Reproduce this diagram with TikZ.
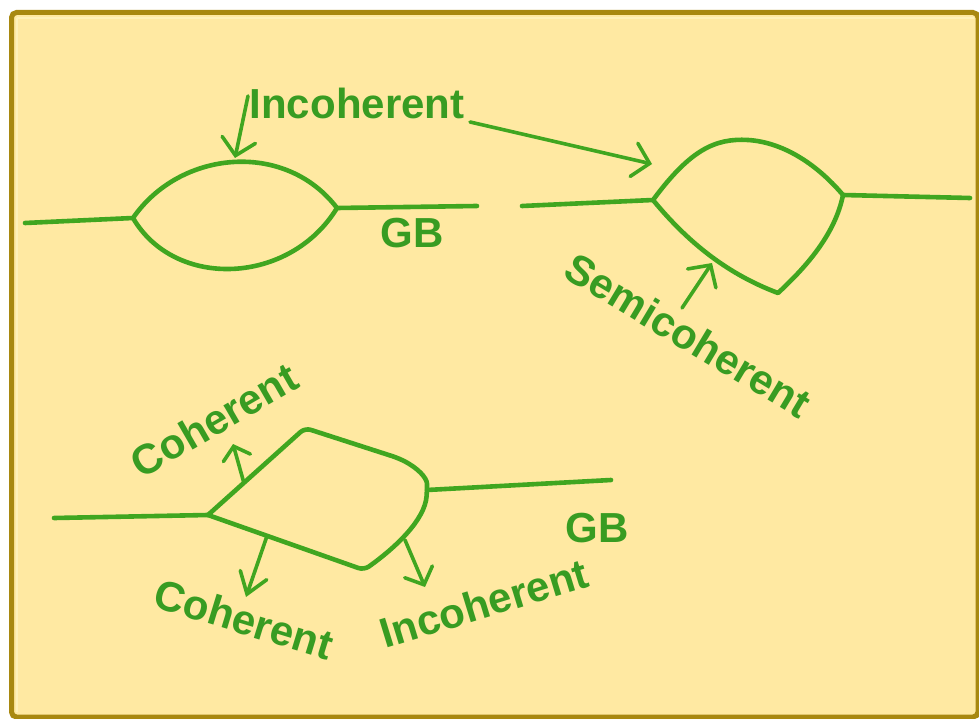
\documentclass[tikz,border=0pt]{standalone}
\usepackage{fontspec}
\setmainfont{Liberation Sans}
\usetikzlibrary{arrows.meta,calc}

\definecolor{paper}{RGB}{255,233,162}
\definecolor{paperhi}{RGB}{255,241,185}
\definecolor{rim}{RGB}{168,136,16}
\definecolor{gbgreen}{RGB}{64,166,32}
\definecolor{txtgreen}{RGB}{56,156,34}

\tikzset{
  gbline/.style={draw=gbgreen, line width=4.6pt, line cap=round, line join=round},
  pointer/.style={draw=gbgreen, line width=3.6pt, line cap=round,
    -{Straight Barb[length=16pt, width=34pt, line cap=round]}},
  lbl/.style={text=txtgreen, inner sep=0pt, font=\bfseries\fontsize{42}{42}\selectfont}
}

\begin{document}
\begin{tikzpicture}[x=1pt, y=-1pt]
  \useasboundingbox (0,0) rectangle (979,719);
  \fill[white] (0,0) rectangle (979,719);

  % framed panel
  \draw[rim, line width=5pt, fill=paper, rounded corners=5pt] (11.5,12.5) rectangle (978,717);
  \draw[paperhi, line width=2.5pt] (17,18) -- (974,18);
  \draw[paperhi, line width=2.5pt] (17,18) -- (17,712);

  % ---- lens-shaped (incoherent) grain boundary ----
  \coordinate (LL) at (25,223);
  \coordinate (LA) at (133,218);
  \coordinate (LB) at (337,208);
  \coordinate (LR) at (477,206);
  \coordinate (Ltop) at (235,158);
  \draw[gbline] (LL) -- (LA) .. controls (180,150) and (285,140) .. (LB) -- (LR);
  \draw[gbline] (LA) .. controls (175,290) and (290,285) .. (LB);

  % ---- semicoherent particle ----
  \coordinate (SL) at (522,206);
  \coordinate (SA) at (653,200);
  \coordinate (SB) at (843,195);
  \coordinate (SR) at (970,198);
  \coordinate (SC) at (778,293);
  \coordinate (Sin) at (652,164);
  \coordinate (Sbot) at (712,263);
  \draw[gbline] (SL) -- (SA) .. controls (690,150) and (715,138) .. (748,140)
        .. controls (781,142) and (815,162) .. (SB) -- (SR);
  \draw[gbline] (SA) .. controls (690,245) and (730,275) .. (SC)
        .. controls (805,268) and (835,235) .. (SB);

  % ---- partly coherent particle ----
  \coordinate (CL) at (54,518);
  \coordinate (CA) at (208,515);
  \coordinate (CT) at (305,428);
  \coordinate (CB) at (427,490);
  \coordinate (CR) at (611,480);
  \coordinate (CC) at (364,570);
  \draw[gbline] (CL) -- (CA);
  \draw[gbline] (CB) -- (CR);
  \draw[gbline, rounded corners=6pt] (CA) -- (CT) -- (398,458)
        .. controls (418,468) and (427,478) .. (CB)
        .. controls (425,520) and (395,548) .. (CC) -- (CA);

  % ---- labels ----
  \node[lbl] (inc1) at (357,103) {Incoherent};
  \node[lbl] (gb1) at (412,233) {GB};
  \node[lbl, rotate=-31] (semi) at (688,335) {Semicoherent};
  \node[lbl, rotate=30] (coh1) at (214,420) {Coherent};
  \node[lbl, rotate=-17] (coh2) at (244,619) {Coherent};
  \node[lbl, rotate=17] (inc2) at (484,603) {Incoherent};
  \node[lbl] (gb2) at (597,528) {GB};

  % ---- pointers ----
  \coordinate (p1s) at (248,96);
  \coordinate (p2s) at (470,122);
  \coordinate (p3s) at (682,308);
  \coordinate (p4s) at ($(CA)!0.37!(CT)$);
  \coordinate (p4e) at (233,444);
  \coordinate (p5s) at (267,536);
  \coordinate (p5e) at (246,597);
  \coordinate (p6s) at (405,540);
  \coordinate (p6e) at (425,587);

  \draw[pointer] (p1s) -- (Ltop);
  \draw[pointer] (p2s) -- (Sin);
  \draw[pointer] (p3s) -- (Sbot);
  \draw[pointer, -{Straight Barb[length=12pt, width=28pt, line cap=round]}] (p4s) -- (p4e);
  \draw[pointer, -{Straight Barb[length=20pt, width=28pt, line cap=round]}] (p5s) -- (p5e);
  \draw[pointer, -{Straight Barb[length=14pt, width=30pt, line cap=round]}] (p6s) -- (p6e);
\end{tikzpicture}
\end{document}
